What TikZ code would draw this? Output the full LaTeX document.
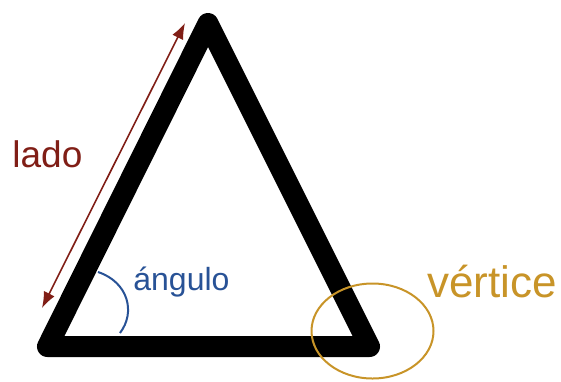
\documentclass[tikz,border=0pt]{standalone}
\usepackage{fontspec}
\setmainfont{Liberation Sans}
\usetikzlibrary{arrows.meta}

\definecolor{ladored}{RGB}{128,30,22}
\definecolor{angblue}{RGB}{40,82,150}
\definecolor{vertorange}{RGB}{200,148,40}

\begin{document}
\begin{tikzpicture}[
x=0.5pt, y=-0.5pt,
>={Latex[length=8pt,width=6pt]},
sideline/.style={draw, line width=10.5pt, line join=round, line cap=round},
sidearrow/.style={<->, ladored, line width=0.8pt},
anglearc/.style={draw, angblue, line width=1pt},
vertring/.style={draw, vertorange, line width=1pt},
labeltext/.style={anchor=base west, inner sep=0pt}
]

% =====================================================
% Triangle
% =====================================================
\useasboundingbox (0,0) rectangle (561,381);

\coordinate (top) at (208,23.5);
\coordinate (left) at (47.5,346.5);
\coordinate (right) at (369.5,346.5);

\draw[sideline] (top) -- (left) -- (right) -- cycle;

% Side (lado)
\coordinate (arrtop) at (185,23);
\coordinate (arrbot) at (42,308);
\draw[sidearrow] (arrbot) -- (arrtop);
\node[labeltext, text=ladored, font=\fontsize{18.5}{22}\selectfont] (lado) at (12,167) {lado};

% Angle (ángulo)
\draw[anglearc] (98,272) .. controls (128,282) and (136,312) .. (120,333);
\node[labeltext, text=angblue, font=\fontsize{16}{19}\selectfont] (angulo) at (133,290) {ángulo};

% Vertex (vértice)
\draw[vertring] (372.5,331) ellipse [x radius=61, y radius=47.5];
\node[labeltext, text=vertorange, font=\fontsize{22}{26}\selectfont] (vertice) at (427,297) {vértice};

\end{tikzpicture}
\end{document}
